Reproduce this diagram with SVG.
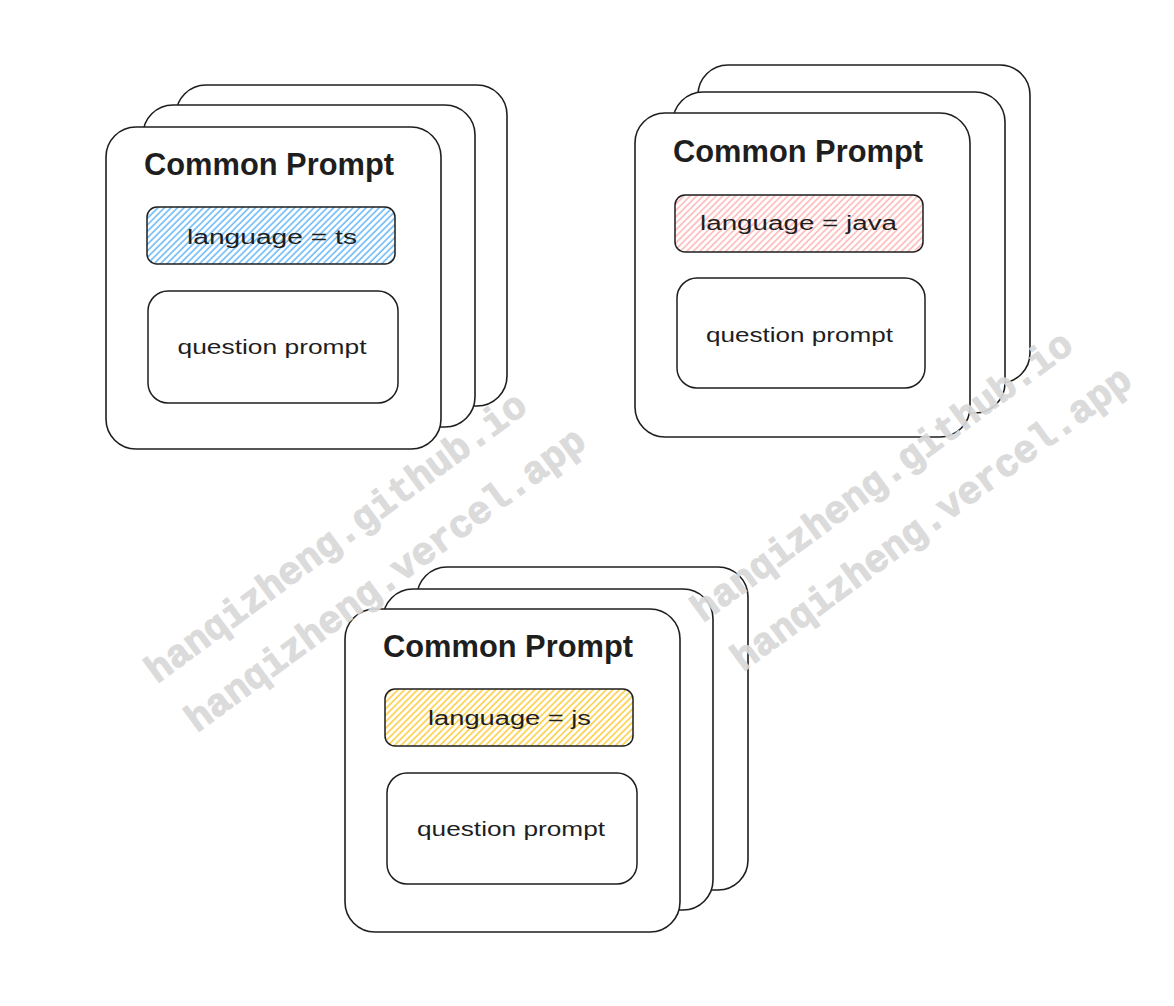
<svg xmlns="http://www.w3.org/2000/svg" width="1174" height="1006" viewBox="0 0 1174 1006">
<style>
.card{fill:#ffffff;stroke:#1e1e1e;stroke-width:1.6}
.inner{stroke:#1e1e1e;stroke-width:1.5}
.q{fill:#ffffff}
.title{font-family:"Liberation Sans",Arial,sans-serif;font-weight:bold;font-size:31px;fill:#1e1e1e;text-anchor:middle}
.lbl{font-family:"Liberation Sans",Arial,sans-serif;font-size:20px;fill:#1e1e1e;text-anchor:middle}
.wm{font-family:"Liberation Mono","Courier New",monospace;font-weight:bold;font-size:38.5px;fill:#d9d9d9;stroke:#d9d9d9;stroke-width:1.2;opacity:0.92}
</style>
<defs>
<pattern id="hBlue" patternUnits="userSpaceOnUse" width="4.6" height="4.6" patternTransform="rotate(45)">
<rect width="4.6" height="4.6" fill="#ffffff"/>
<line x1="1" y1="0" x2="1" y2="4.6" stroke="#4dabf7" stroke-width="1.3"/>
</pattern>
<pattern id="hRed" patternUnits="userSpaceOnUse" width="4.6" height="4.6" patternTransform="rotate(45)">
<rect width="4.6" height="4.6" fill="#ffffff"/>
<line x1="1" y1="0" x2="1" y2="4.6" stroke="#ffa8a8" stroke-width="1.3"/>
</pattern>
<pattern id="hYellow" patternUnits="userSpaceOnUse" width="4.6" height="4.6" patternTransform="rotate(45)">
<rect width="4.6" height="4.6" fill="#ffffff"/>
<line x1="1" y1="0" x2="1" y2="4.6" stroke="#fcc419" stroke-width="1.3"/>
</pattern>
</defs>
<rect width="1174" height="1006" fill="#ffffff"/>

<g id="stack-ts">
<rect class="card" x="176" y="85" width="331" height="321" rx="30"/>
<rect class="card" x="143" y="105" width="332" height="322" rx="30"/>
<rect class="card" x="106" y="127" width="335" height="322" rx="30"/>
<text class="title" x="269" y="175" textLength="250" lengthAdjust="spacingAndGlyphs">Common Prompt</text>
<g id="lang-ts">
<rect class="inner" x="147" y="207" width="248" height="57" rx="10" fill="url(#hBlue)"/>
<text class="lbl" x="272" y="244" textLength="170" lengthAdjust="spacingAndGlyphs">language = ts</text>
</g>
<g id="question-ts">
<rect class="inner q" x="148" y="291" width="250" height="112" rx="20"/>
<text class="lbl" x="272" y="354" textLength="189" lengthAdjust="spacingAndGlyphs">question prompt</text>
</g>
</g>

<g id="stack-java">
<rect class="card" x="698" y="65" width="332" height="318" rx="30"/>
<rect class="card" x="673" y="92" width="332" height="321" rx="30"/>
<rect class="card" x="635" y="113" width="335" height="324" rx="30"/>
<text class="title" x="798" y="162" textLength="250" lengthAdjust="spacingAndGlyphs">Common Prompt</text>
<g id="lang-java">
<rect class="inner" x="675" y="195" width="248" height="57" rx="10" fill="url(#hRed)"/>
<text class="lbl" x="798.5" y="230" textLength="197" lengthAdjust="spacingAndGlyphs">language = java</text>
</g>
<g id="question-java">
<rect class="inner q" x="677" y="278" width="248" height="110" rx="20"/>
<text class="lbl" x="799.5" y="342" textLength="187" lengthAdjust="spacingAndGlyphs">question prompt</text>
</g>
</g>

<g id="stack-js">
<rect class="card" x="417" y="567" width="331" height="323" rx="30"/>
<rect class="card" x="383" y="589" width="330" height="321" rx="30"/>
<rect class="card" x="345" y="609" width="335" height="323" rx="30"/>
<text class="title" x="508" y="657" textLength="250" lengthAdjust="spacingAndGlyphs">Common Prompt</text>
<g id="lang-js">
<rect class="inner" x="385" y="689" width="248" height="57" rx="10" fill="url(#hYellow)"/>
<text class="lbl" x="509.5" y="725" textLength="163" lengthAdjust="spacingAndGlyphs">language = js</text>
</g>
<g id="question-js">
<rect class="inner q" x="387" y="773" width="250" height="111" rx="20"/>
<text class="lbl" x="511" y="836" textLength="188" lengthAdjust="spacingAndGlyphs">question prompt</text>
</g>
</g>

<g id="connectors"></g>

<g id="watermarks">
<text class="wm" transform="translate(157,684) rotate(-36.3)">hanqizheng.github.io</text>
<text class="wm" transform="translate(197,733) rotate(-36.3)">hanqizheng.vercel.app</text>
<text class="wm" transform="translate(703,623) rotate(-36.3)">hanqizheng.github.io</text>
<text class="wm" transform="translate(743,672) rotate(-36.3)">hanqizheng.vercel.app</text>
</g>
</svg>
